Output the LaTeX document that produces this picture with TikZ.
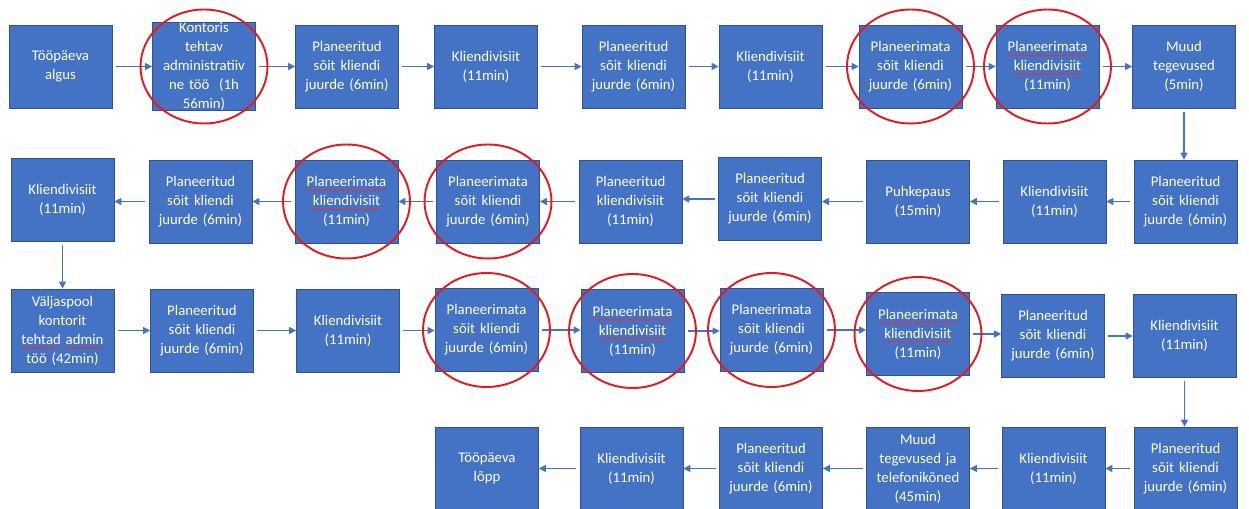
\documentclass[tikz,border=0pt]{standalone}
\usepackage{fontspec}
\setmainfont{Carlito}
\usepackage{xcolor}
\usetikzlibrary{arrows.meta, decorations.pathmorphing}
\definecolor{boxblue}{HTML}{4472C4}
\definecolor{boxedge}{HTML}{2F528F}
\definecolor{ringred}{HTML}{E01B22}
\definecolor{spellred}{HTML}{E8303A}
\newsavebox{\spellbox}
\newcommand{\spell}[1]{\sbox{\spellbox}{#1}\usebox{\spellbox}\llap{\tikz[baseline=0pt, x=1pt, y=1pt]\draw[spellred, line width=0.35pt, decorate, decoration={snake, amplitude=0.45pt, segment length=1.8pt}] (0,-2) -- (\the\wd\spellbox,-2);}}
\tikzset{
    block/.style={rectangle, draw=boxedge, thin, fill=boxblue, minimum width=2.06cm, minimum height=1.66cm, inner sep=0pt, text width=2cm, align=center, text=white, font=\fontsize{8.4}{10.8}\selectfont},
    arrow/.style={-{Triangle[length=4pt, width=4pt]}, draw=boxblue, line width=0.6pt, shorten <=2pt},
    ring/.style={draw=ringred, line width=1.1pt}
}

\begin{document}
\begin{tikzpicture}[x=0.02cm, y=-0.02cm]
    \useasboundingbox (0,0) rectangle (1249,509);

    % Row 1
    \node[block] (a1) at (60.5,66.5) {Tööpäeva\\algus};
    \node[block] (a2) at (204,66.5) {Kontoris\\tehtav\\administratiiv\\ne töö~~(1h\\56min)};
    \node[block] (a3) at (347,66.5) {Planeeritud\\sõit kliendi\\juurde (6min)};
    \node[block] (a4) at (486,66.5) {Kliendivisiit\\(11min)};
    \node[block] (a5) at (633.5,66.5) {Planeeritud\\sõit kliendi\\juurde (6min)};
    \node[block] (a6) at (770.5,66.5) {Kliendivisiit\\(11min)};
    \node[block] (a7) at (910.5,66.5) {Planeerimata\\sõit kliendi\\juurde (6min)};
    \node[block] (a8) at (1047.5,66.5) {\spell{Planeerimata}\\\spell{kliendivisiit}\\(11min)};
    \node[block] (a9) at (1184,66.5) {Muud\\tegevused\\(5min)};

    % Row 2
    \node[block] (b1) at (62.5,199.5) {Kliendivisiit\\(11min)};
    \node[block] (b2) at (200.5,201.5) {Planeeritud\\sõit kliendi\\juurde (6min)};
    \node[block] (b3) at (346.5,201.5) {\spell{Planeerimata}\\\spell{kliendivisiit}\\(11min)};
    \node[block] (b4) at (488,201.5) {Planeerimata\\sõit kliendi\\juurde (6min)};
    \node[block] (b5) at (630.5,201.5) {Planeeritud\\kliendivisiit\\(11min)};
    \node[block] (b6) at (770,199) {Planeeritud\\sõit kliendi\\juurde (6min)};
    \node[block] (b7) at (918,201.5) {Puhkepaus\\(15min)};
    \node[block] (b8) at (1054.5,201.5) {Kliendivisiit\\(11min)};
    \node[block] (b9) at (1185.5,201.5) {Planeeritud\\sõit kliendi\\juurde (6min)};

    % Row 3
    \node[block] (c1) at (62.5,330.5) {Väljaspool\\kontorit\\\spell{tehtad} \spell{admin}\\töö (42min)};
    \node[block] (c2) at (202,330.5) {Planeeritud\\sõit kliendi\\juurde (6min)};
    \node[block] (c3) at (348,330.5) {Kliendivisiit\\(11min)};
    \node[block] (c4) at (486.5,330) {Planeerimata\\sõit kliendi\\juurde (6min)};
    \node[block] (c5) at (632.5,331) {\spell{Planeerimata}\\\spell{kliendivisiit}\\(11min)};
    \node[block] (c6) at (771.5,330) {Planeerimata\\sõit kliendi\\juurde (6min)};
    \node[block] (c7) at (918,334) {\spell{Planeerimata}\\\spell{kliendivisiit}\\(11min)};
    \node[block] (c8) at (1053,336) {Planeeritud\\sõit kliendi\\juurde (6min)};
    \node[block] (c9) at (1184.5,336) {Kliendivisiit\\(11min)};

    % Row 4
    \node[block] (d1) at (487,468.5) {Tööpäeva\\lõpp};
    \node[block] (d2) at (631.5,468.5) {Kliendivisiit\\(11min)};
    \node[block] (d3) at (771,468.5) {Planeeritud\\sõit kliendi\\juurde (6min)};
    \node[block] (d4) at (918,468.5) {Muud\\tegevused ja\\telefonikõned\\(45min)};
    \node[block] (d5) at (1053.5,468.5) {Kliendivisiit\\(11min)};
    \node[block] (d6) at (1185.5,468.5) {Planeeritud\\sõit kliendi\\juurde (6min)};

    % Edges
    \foreach \s/\t in {a1/a2, a2/a3, a3/a4, a4/a5, a5/a6, a6/a7, a7/a8, a8/a9, c1/c2, c2/c3, c3/c4, c4/c5, c5/c6, c6/c7, c7/c8, c8/c9}
        \draw[arrow] (\s.east) -- (\s.east -| \t.west);
    \foreach \s/\t in {b9/b8, b8/b7, b7/b6, b6/b5, b5/b4, b4/b3, b3/b2, b2/b1, d6/d5, d5/d4, d4/d3, d3/d2, d2/d1}
        \draw[arrow] (\s.west) -- (\s.west -| \t.east);
    \draw[arrow] (a9.south) -- (a9.south |- b9.north);
    \draw[arrow] (b1.south) -- (b1.south |- c1.north);
    \draw[arrow] (c9.south) -- (c9.south |- d6.north);

    % Rings
    \foreach \n in {a2, a7, a8, b3, b4, c4, c5, c6, c7}
        \draw[ring] (\n) ellipse [x radius=1.27cm, y radius=1.14cm];
\end{tikzpicture}
\end{document}
